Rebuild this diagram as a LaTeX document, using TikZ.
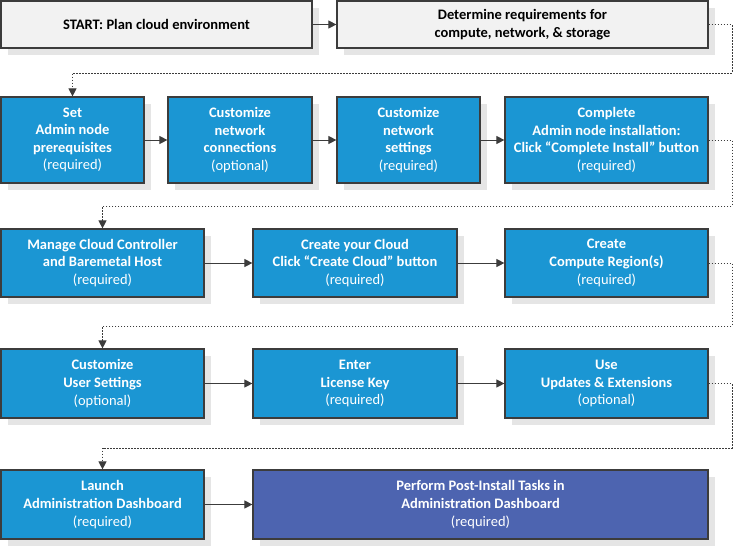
\documentclass[tikz,border=0pt]{standalone}
\usepackage{fontspec}
\setmainfont{Carlito}
\usetikzlibrary{shadows,arrows.meta}
\definecolor{boxblue}{RGB}{27,150,211}
\definecolor{boxpurple}{RGB}{77,100,176}
\definecolor{boxgray}{RGB}{242,242,242}
\definecolor{edgegray}{RGB}{60,60,60}
\definecolor{shadowgray}{RGB}{229,229,229}
\tikzset{
  base/.style={draw=edgegray, line width=1.2pt, inner sep=0pt, align=center,
    font=\fontsize{14.5}{17.6}\selectfont,
    drop shadow={shadow xshift=7pt, shadow yshift=-7pt, fill=shadowgray, opacity=1}},
  bluebox/.style={base, fill=boxblue, text=white},
  purplebox/.style={base, fill=boxpurple, text=white},
  graybox/.style={base, fill=boxgray, text=black},
  arr/.style={draw=edgegray, line width=1pt, -{Triangle[length=8pt,width=8pt]}},
  darr/.style={draw=edgegray, line width=1pt, dash pattern=on 1.6pt off 1.4pt, -{Triangle[length=8pt,width=8pt]}},
}
\newcommand\placebox[7]{%
  \node[#6, minimum width={(#4-#2)*1pt}, minimum height={(#5-#3)*1pt}]
    (#1) at ({(#2+#4)/2},{(#3+#5)/2}) {#7};}
\newcommand\req{{\fontseries{m}\selectfont(required)}}
\newcommand\opt{{\fontseries{m}\selectfont(optional)}}
\begin{document}
\begin{tikzpicture}[x=1pt,y=-1pt]
\useasboundingbox (0,0) rectangle (735,547);
% row 0
\placebox{s0}{1}{1}{312}{48}{graybox}{\bfseries START: Plan cloud environment}
\placebox{s1}{337}{1}{708}{48}{graybox}{\bfseries Determine requirements for\\\bfseries compute, network, \& storage}
% row 1
\placebox{a1}{1}{97}{144}{183}{bluebox}{\bfseries Set\\\bfseries Admin node\\\bfseries prerequisites\\\req}
\placebox{a2}{168}{97}{312}{183}{bluebox}{\bfseries Customize\\\bfseries network\\\bfseries connections\\\opt}
\placebox{a3}{337}{97}{480}{183}{bluebox}{\bfseries Customize\\\bfseries network\\\bfseries settings\\\req}
\placebox{a4}{505}{97}{708}{183}{bluebox}{\bfseries Complete\\\bfseries Admin node installation:\\\bfseries Click “Complete Install” button\\\req}
% row 2
\placebox{b1}{1}{229}{204}{297}{bluebox}{\bfseries Manage Cloud Controller\\\bfseries and Baremetal Host\\\req}
\placebox{b2}{253}{229}{457}{297}{bluebox}{\bfseries Create your Cloud\\\bfseries Click “Create Cloud” button\\\req}
\placebox{b3}{505}{229}{708}{297}{bluebox}{\bfseries Create\\\bfseries Compute Region(s)\\\req}
% row 3
\placebox{c1}{1}{349}{204}{418}{bluebox}{\bfseries Customize\\\bfseries User Settings\\\opt}
\placebox{c2}{253}{349}{457}{418}{bluebox}{\bfseries Enter\\\bfseries License Key\\\req}
\placebox{c3}{505}{349}{708}{418}{bluebox}{\bfseries Use\\\bfseries Updates \& Extensions\\\opt}
% row 4
\placebox{d1}{1}{470}{204}{539}{bluebox}{\bfseries Launch\\\bfseries Administration Dashboard\\\req}
\placebox{d2}{253}{470}{708}{539}{purplebox}{\bfseries Perform Post-Install Tasks in\\\bfseries Administration Dashboard\\\req}
% helper coordinates
\coordinate (r) at (732,0);
\coordinate (m1) at (0,73);
\coordinate (m2) at (0,206);
\coordinate (m3) at (0,326);
\coordinate (m4) at (0,448);
% solid arrows
\draw[arr] (s0) -- (s1);
\draw[arr] (a1) -- (a2);
\draw[arr] (a2) -- (a3);
\draw[arr] (a3) -- (a4);
\draw[arr] (b1) -- (b2);
\draw[arr] (b2) -- (b3);
\draw[arr] (c1) -- (c2);
\draw[arr] (c2) -- (c3);
\draw[arr] (d1) -- (d2);
% dotted connectors
\draw[darr] (s1.east) -- (s1.east -| r) -- (r |- m1) -- (m1 -| a1.north) -- (a1.north);
\draw[darr] (a4.east) -- (a4.east -| r) -- (r |- m2) -- (m2 -| b1.north) -- (b1.north);
\draw[darr] (b3.east) -- (b3.east -| r) -- (r |- m3) -- (m3 -| c1.north) -- (c1.north);
\draw[darr] (c3.east) -- (c3.east -| r) -- (r |- m4) -- (m4 -| d1.north) -- (d1.north);
\end{tikzpicture}
\end{document}
